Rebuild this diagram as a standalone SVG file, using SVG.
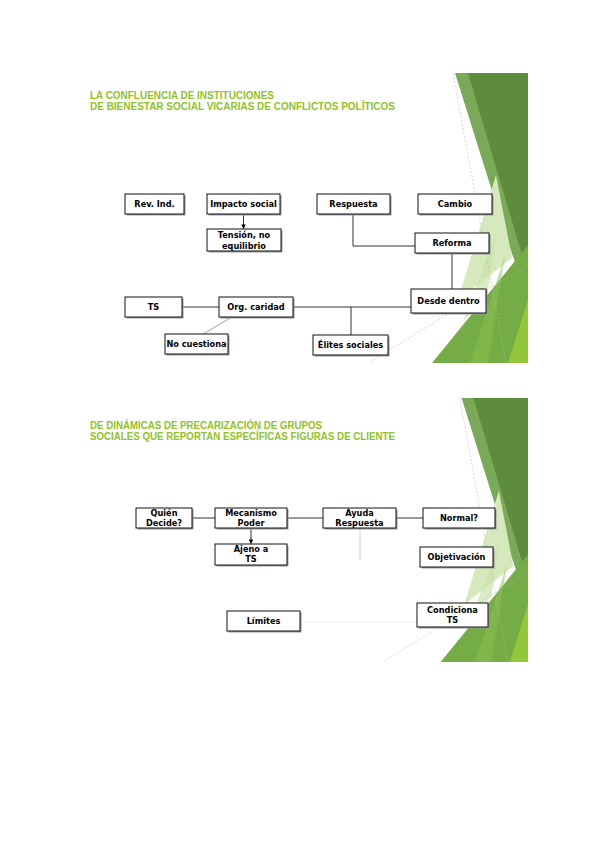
<svg xmlns="http://www.w3.org/2000/svg" width="600" height="848" viewBox="0 0 600 848">
<style>
.t{font-family:"Liberation Sans",Arial,sans-serif;font-weight:bold;font-size:10px;fill:#90C226}
.b{fill:#fff;stroke:#111;stroke-width:1}
.s{fill:#9a9a9a}
.l{font-family:"DejaVu Sans",Verdana,sans-serif;font-weight:bold;font-size:8.2px;fill:#000;text-anchor:middle}
.c{fill:none;stroke:#333;stroke-width:1}
.dash{fill:none;stroke:#b5b5b5;stroke-width:0.6;stroke-dasharray:2 2}
</style>
<defs>
<marker id="ah" viewBox="0 0 6 6" refX="5.5" refY="3" markerWidth="4.5" markerHeight="4.5" orient="auto">
<path d="M0,0 L6,3 L0,6 z" fill="#000"/>
</marker>
<g id="deco">
<polygon points="455,73 528,73 528,300 508,242" fill="#7aa95a"/>
<polygon points="468,73 528,73 528,275" fill="#5d8d3c"/>
<polygon points="496,175 458,300 512,258" fill="#d6e9bd"/>
<polygon points="528,245 432,363 528,363" fill="#74ad45"/>
<polygon points="497,230 463,322 488,290" fill="#c9e2a8" opacity="0.7"/>
<polygon points="505,255 470,363 488,363" fill="#8cc152" opacity="0.5"/>
<polygon points="528,300 508,363 528,363" fill="#94c63a"/>
<line x1="453" y1="73" x2="506" y2="363" class="dash"/>
<line x1="370" y1="362" x2="528" y2="265" class="dash"/>
</g>
</defs>

<rect width="600" height="848" fill="#fff"/>

<g id="background">
<use href="#deco"/>
<use href="#deco" transform="translate(528,398) scale(0.91) translate(-528,-73)"/>
</g>

<g id="titles">
<text class="t" x="90" y="98.5" textLength="184" lengthAdjust="spacingAndGlyphs">LA CONFLUENCIA DE INSTITUCIONES</text>
<text class="t" x="90" y="109.5" textLength="305" lengthAdjust="spacingAndGlyphs">DE BIENESTAR SOCIAL VICARIAS DE CONFLICTOS POLÍTICOS</text>
<text class="t" x="90" y="428.5" textLength="232" lengthAdjust="spacingAndGlyphs">DE DINÁMICAS DE PRECARIZACIÓN DE GRUPOS</text>
<text class="t" x="90" y="439.5" textLength="305" lengthAdjust="spacingAndGlyphs">SOCIALES QUE REPORTAN ESPECÍFICAS FIGURAS DE CLIENTE</text>
</g>

<g id="connectors">
<line x1="243.5" y1="214" x2="243.5" y2="228.5" class="c" marker-end="url(#ah)"/>
<path d="M353,214 V246 H415" class="c"/>
<path d="M452,253 V289" class="c"/>
<path d="M182,307 H219" class="c"/>
<path d="M293,307 H411" class="c"/>
<path d="M351,307 V335" class="c"/>
<path d="M232,317 L203,334" fill="none" stroke="#888" stroke-width="0.8"/>
<path d="M192,518 H215" class="c" stroke="#555"/>
<path d="M287,518 H323" class="c" stroke="#555"/>
<path d="M396,518 H423" class="c" stroke="#555"/>
<line x1="251" y1="528" x2="251" y2="543.5" class="c" marker-end="url(#ah)"/>
<path d="M360,528 V560" fill="none" stroke="#ccc" stroke-width="1"/>
<path d="M300,622 H417" fill="none" stroke="#eee" stroke-width="1"/>
</g>

<g id="rev"><rect class="s" x="126.5" y="195.5" width="59" height="20"/><rect class="b" x="125" y="194" width="59" height="20"/><text class="l" x="154.5" y="207">Rev. Ind.</text></g>
<g id="impacto"><rect class="s" x="208.5" y="195.5" width="73" height="20"/><rect class="b" x="207" y="194" width="73" height="20"/><text class="l" x="243.5" y="207">Impacto social</text></g>
<g id="tension"><rect class="s" x="208.5" y="230.5" width="74" height="22"/><rect class="b" x="207" y="229" width="74" height="22"/><text class="l" x="244" y="238">Tensión, no</text><text class="l" x="244" y="248.5">equilibrio</text></g>
<g id="respuesta"><rect class="s" x="318.5" y="195.5" width="73" height="20"/><rect class="b" x="317" y="194" width="73" height="20"/><text class="l" x="353.5" y="207">Respuesta</text></g>
<g id="cambio"><rect class="s" x="419.5" y="195.5" width="74" height="20"/><rect class="b" x="418" y="194" width="74" height="20"/><text class="l" x="455" y="207">Cambio</text></g>
<g id="reforma"><rect class="s" x="416.5" y="234.5" width="74" height="20"/><rect class="b" x="415" y="233" width="74" height="20"/><text class="l" x="452" y="246">Reforma</text></g>
<g id="desde"><rect class="s" x="412.5" y="290.5" width="75" height="24"/><rect class="b" x="411" y="289" width="75" height="24"/><text class="l" x="448.5" y="304">Desde dentro</text></g>
<g id="ts"><rect class="s" x="126.5" y="298.5" width="57" height="20"/><rect class="b" x="125" y="297" width="57" height="20"/><text class="l" x="153.5" y="310">TS</text></g>
<g id="org"><rect class="s" x="220.5" y="298.5" width="74" height="20"/><rect class="b" x="219" y="297" width="74" height="20"/><text class="l" x="256" y="310">Org. caridad</text></g>
<g id="nocuestiona"><rect class="s" x="166.5" y="335.5" width="63" height="20"/><rect class="b" x="165" y="334" width="63" height="20"/><text class="l" x="196.5" y="347">No cuestiona</text></g>
<g id="elites"><rect class="s" x="314.5" y="336.5" width="75" height="20"/><rect class="b" x="313" y="335" width="75" height="20"/><text class="l" x="350.5" y="348">Élites sociales</text></g>

<g id="quien"><rect class="s" x="137.5" y="509.5" width="56" height="20"/><rect class="b" x="136" y="508" width="56" height="20"/><text class="l" x="164" y="515.5">Quién</text><text class="l" x="164" y="525.5">Decide?</text></g>
<g id="mecanismo"><rect class="s" x="216.5" y="509.5" width="72" height="20"/><rect class="b" x="215" y="508" width="72" height="20"/><text class="l" x="251" y="515.5">Mecanismo</text><text class="l" x="251" y="525.5">Poder</text></g>
<g id="ajeno"><rect class="s" x="216.5" y="545.5" width="72" height="21"/><rect class="b" x="215" y="544" width="72" height="21"/><text class="l" x="251" y="552">Ajeno a</text><text class="l" x="251" y="562">TS</text></g>
<g id="ayuda"><rect class="s" x="324.5" y="509.5" width="73" height="20"/><rect class="b" x="323" y="508" width="73" height="20"/><text class="l" x="359.5" y="515.5">Ayuda</text><text class="l" x="359.5" y="525.5">Respuesta</text></g>
<g id="normal"><rect class="s" x="424.5" y="509.5" width="72" height="20"/><rect class="b" x="423" y="508" width="72" height="20"/><text class="l" x="459" y="521">Normal?</text></g>
<g id="objetivacion"><rect class="s" x="421.5" y="548.5" width="73" height="20"/><rect class="b" x="420" y="547" width="73" height="20"/><text class="l" x="456.5" y="560">Objetivación</text></g>
<g id="limites"><rect class="s" x="228.5" y="612.5" width="73" height="20"/><rect class="b" x="227" y="611" width="73" height="20"/><text class="l" x="263.5" y="624">Límites</text></g>
<g id="condiciona"><rect class="s" x="418.5" y="604.5" width="71" height="24"/><rect class="b" x="417" y="603" width="71" height="24"/><text class="l" x="452.5" y="612.5">Condiciona</text><text class="l" x="452.5" y="623">TS</text></g>
</svg>
